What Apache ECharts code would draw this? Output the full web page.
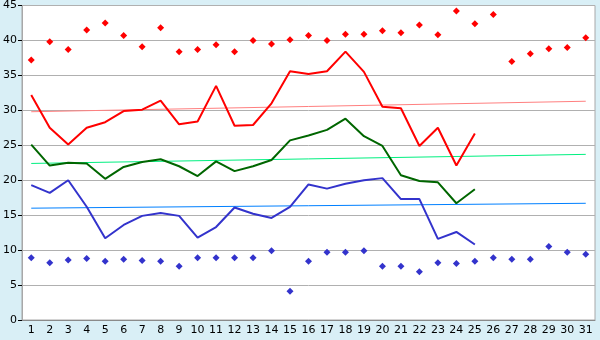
<!DOCTYPE html>
<html>
<head>
<meta charset="utf-8">
<script src="https://cdn.jsdelivr.net/npm/echarts@6/dist/echarts.min.js"></script>
<style>
  html, body { margin: 0; padding: 0; background: #d9eff6; }
  #chart { width: 600px; height: 340px; }
</style>
</head>
<body>
<div id="chart"></div>
<script>
var days = [];
for (var d = 1; d <= 31; d++) days.push(String(d));

// daily max / min (diamonds)
var maxPoints = [37.2, 39.8, 38.7, 41.5, 42.5, 40.7, 39.1, 41.8, 38.4, 38.7, 39.4, 38.4, 40.0, 39.5, 40.1,
  40.7, 40.0, 40.9, 40.9, 41.4, 41.1, 42.2, 40.8, 44.2, 42.4, 43.7, 37.0, 38.1, 38.8, 39.0, 40.4];
var minPoints = [8.9, 8.2, 8.6, 8.8, 8.4, 8.7, 8.5, 8.4, 7.7, 8.9, 8.9, 8.9, 8.9, 9.9, 4.1,
  8.4, 9.7, 9.7, 9.9, 7.7, 7.7, 6.9, 8.2, 8.1, 8.4, 8.9, 8.7, 8.7, 10.5, 9.7, 9.4];

// lines (days 1-25)
var highLine = [32.2, 27.5, 25.1, 27.5, 28.3, 29.9, 30.1, 31.4, 28.0, 28.4, 33.5, 27.8, 27.9, 31.0, 35.6,
  35.2, 35.6, 38.4, 35.5, 30.5, 30.3, 24.9, 27.5, 22.1, 26.7];
var meanLine = [25.1, 22.1, 22.5, 22.4, 20.2, 21.9, 22.6, 23.0, 22.0, 20.6, 22.7, 21.3, 22.0, 22.9, 25.7,
  26.4, 27.2, 28.8, 26.3, 24.9, 20.7, 19.9, 19.7, 16.7, 18.7];
var lowLine = [19.3, 18.2, 20.0, 16.2, 11.7, 13.6, 14.9, 15.3, 14.9, 11.8, 13.3, 16.1, 15.2, 14.6, 16.2,
  19.4, 18.8, 19.5, 20.0, 20.3, 17.3, 17.3, 11.6, 12.6, 10.8];

// trend lines: value at day 1 and day 31
var highTrend = [29.8, 31.3];
var meanTrend = [22.4, 23.7];
var lowTrend = [16.0, 16.7];

var yTicks = [0, 5, 10, 15, 20, 25, 30, 35, 40, 45];

function ends(arr) {
  return [[days[0], arr[0]], [days[days.length - 1], arr[1]]];
}

var chart = echarts.init(document.getElementById('chart'), null, { renderer: 'canvas' });

var option = {
  animation: false,
  backgroundColor: '#d9eff6',
  grid: {
    left: 20, right: 5, top: 5, bottom: 20,
    show: true,
    backgroundColor: '#ffffff',
    borderColor: '#a8a8a8',
    borderWidth: 1
  },
  xAxis: {
    type: 'category',
    data: days,
    boundaryGap: true,
    axisLine: { lineStyle: { color: '#8a8a8a', width: 1 } },
    axisTick: { alignWithLabel: true, length: 4, lineStyle: { color: '#000' } },
    axisLabel: { color: '#000', fontFamily: 'DejaVu Sans', fontSize: 11, margin: 5, interval: 0 },
    splitLine: { show: false }
  },
  yAxis: {
    type: 'value',
    min: yTicks[0],
    max: yTicks[yTicks.length - 1],
    interval: 5,
    axisLine: { show: true, lineStyle: { color: '#a8a8a8', width: 1 } },
    axisTick: { show: true, length: 4, lineStyle: { color: '#000' } },
    axisLabel: { color: '#000', fontFamily: 'DejaVu Sans', fontSize: 11, margin: 5 },
    splitLine: { lineStyle: { color: '#b0b0b0', width: 1 } }
  },
  series: [
    { type: 'line', data: ends(highTrend), showSymbol: false, lineStyle: { color: '#ff8080', width: 1 } },
    { type: 'line', data: ends(meanTrend), showSymbol: false, lineStyle: { color: '#00f080', width: 1 } },
    { type: 'line', data: ends(lowTrend), showSymbol: false, lineStyle: { color: '#0080ff', width: 1 } },
    { type: 'line', data: highLine, showSymbol: false, lineStyle: { color: '#ff0000', width: 2 } },
    { type: 'line', data: meanLine, showSymbol: false, lineStyle: { color: '#006600', width: 2 } },
    { type: 'line', data: lowLine, showSymbol: false, lineStyle: { color: '#3333cc', width: 2 } },
    { type: 'scatter', data: maxPoints, symbol: 'diamond', symbolSize: 7, itemStyle: { color: '#ff0000', opacity: 1 } },
    { type: 'scatter', data: minPoints, symbol: 'diamond', symbolSize: 7, itemStyle: { color: '#3333cc', opacity: 1 } }
  ]
};

chart.setOption(option);
</script>
</body>
</html>
